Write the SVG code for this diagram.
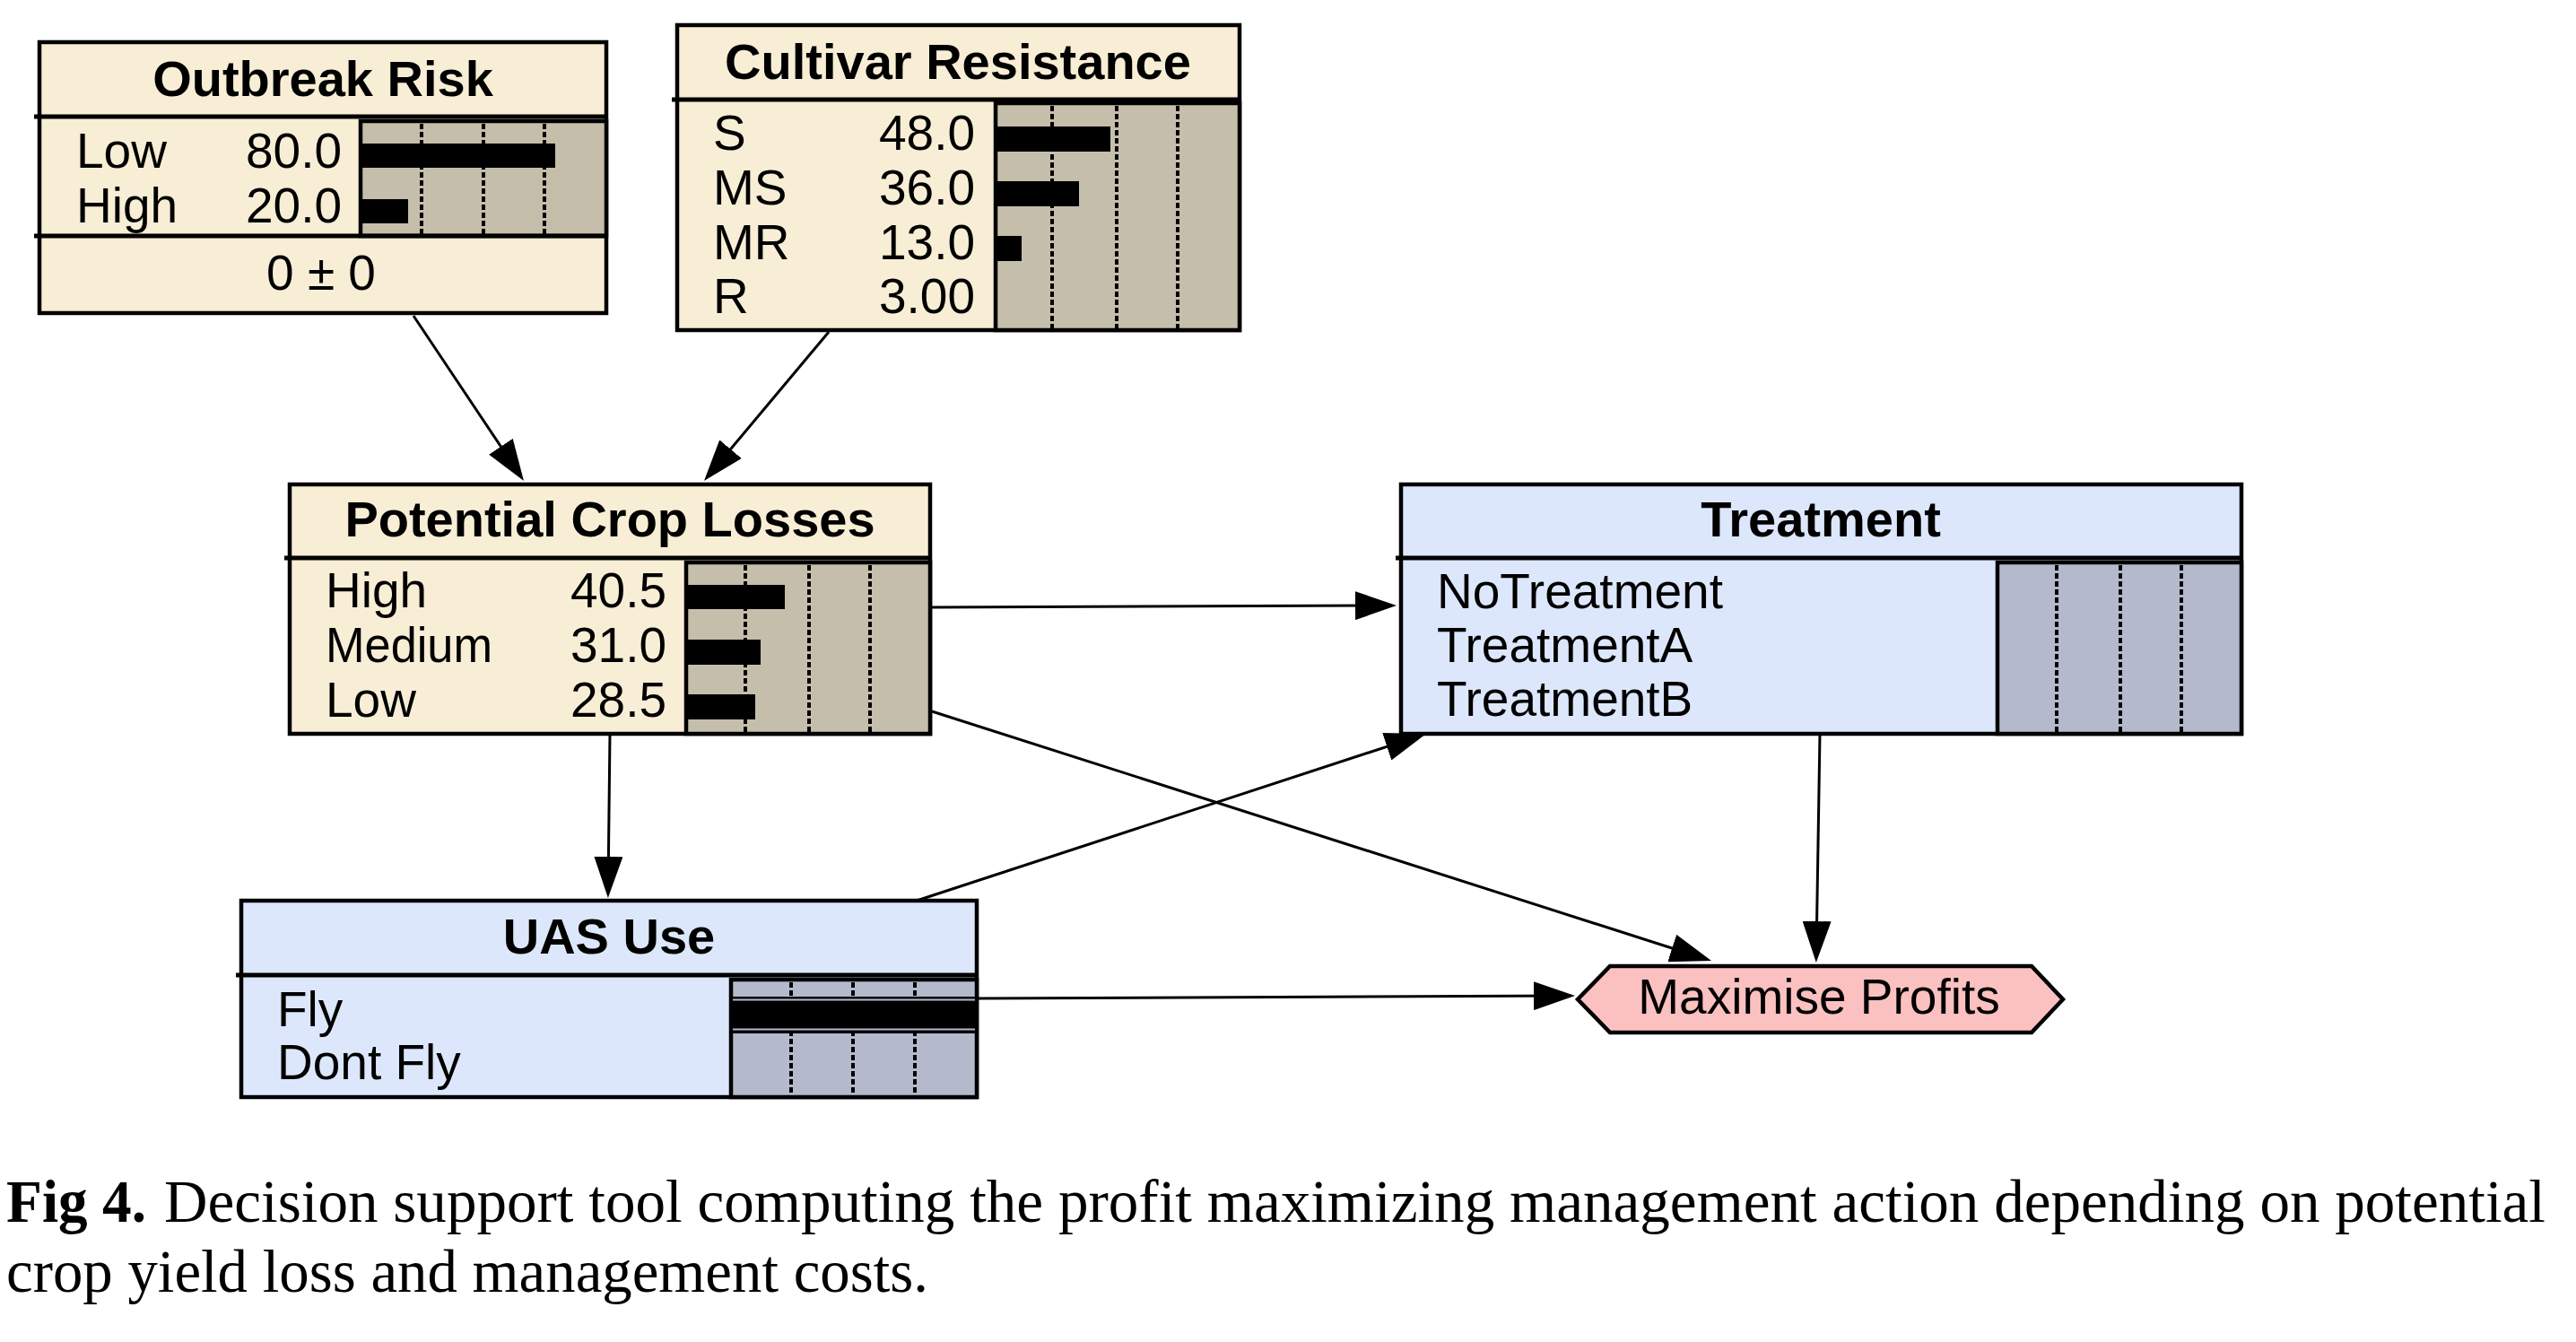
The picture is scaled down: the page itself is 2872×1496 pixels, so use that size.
<svg xmlns="http://www.w3.org/2000/svg" width="2872" height="1496" viewBox="0 0 2872 1496">
<style>
.box{stroke:#000;stroke-width:4.5}
.nat{fill:#f8eed5}
.dec{fill:#dde7fb}
.barbg-n{fill:#c5beaa;stroke:#000;stroke-width:4.5}
.barbg-d{fill:#b4bacb;stroke:#000;stroke-width:4.5}
.sep{stroke:#000;stroke-width:5}
.dash{stroke:#000;stroke-width:4;stroke-dasharray:6 3}
.title{font-family:"Liberation Sans",Arial,sans-serif;font-weight:bold;font-size:56px;fill:#000;text-anchor:middle}
.row{font-family:"Liberation Sans",Arial,sans-serif;font-size:55px;fill:#000}
.val{font-family:"Liberation Sans",Arial,sans-serif;font-size:55px;fill:#000;text-anchor:end}
.cap{font-family:"Liberation Serif","Times New Roman",serif;font-size:67px;fill:#000}
.edge{stroke:#000;stroke-width:3;fill:none;marker-end:url(#arr)}
</style>
<defs>
<marker id="arr" markerUnits="userSpaceOnUse" markerWidth="46" markerHeight="32" viewBox="0 0 46 32" refX="36" refY="16" orient="auto">
<path d="M0,0 L46,16 L0,32 z" fill="#000"/>
</marker>
</defs>
<rect width="2872" height="1496" fill="#fff"/>

<g id="connectors">
<line class="edge" x1="461" y1="352" x2="578.4" y2="527.7"/>
<line class="edge" x1="924" y1="370" x2="791.4" y2="528.3"/>
<line class="edge" x1="1039" y1="677" x2="1547" y2="675"/>
<line class="edge" x1="680" y1="818" x2="678" y2="991"/>
<line class="edge" x1="1039" y1="793" x2="1898.5" y2="1068"/>
<line class="edge" x1="1022" y1="1004" x2="1580.5" y2="821.1"/>
<line class="edge" x1="2029" y1="818" x2="2025" y2="1063"/>
<line class="edge" x1="1089" y1="1113" x2="1746" y2="1110"/>
</g>

<g id="outbreak-risk">
<rect class="box nat" x="44" y="47" width="632" height="302"/>
<line class="sep" x1="38" y1="130" x2="676" y2="130"/>
<rect class="barbg-n" x="402" y="135" width="274" height="128"/>
<line class="sep" x1="38" y1="263" x2="676" y2="263"/>
<line class="dash" x1="470" y1="138" x2="470" y2="261"/>
<line class="dash" x1="539" y1="138" x2="539" y2="261"/>
<line class="dash" x1="607" y1="138" x2="607" y2="261"/>
<rect x="404" y="160" width="215" height="27" fill="#000"/>
<rect x="404" y="222" width="51" height="27" fill="#000"/>
<text class="title" x="360" y="107">Outbreak Risk</text>
<text class="row" x="85" y="187">Low</text>
<text class="val" x="381" y="187">80.0</text>
<text class="row" x="85" y="248">High</text>
<text class="val" x="381" y="248">20.0</text>
<text class="row" x="358" y="323" text-anchor="middle">0 ± 0</text>
</g>

<g id="cultivar-resistance">
<rect class="box nat" x="755" y="28" width="627" height="340"/>
<line class="sep" x1="749" y1="111" x2="1382" y2="111"/>
<rect class="barbg-n" x="1110" y="115" width="272" height="253"/>
<line class="dash" x1="1173" y1="118" x2="1173" y2="366"/>
<line class="dash" x1="1245" y1="118" x2="1245" y2="366"/>
<line class="dash" x1="1313" y1="118" x2="1313" y2="366"/>
<rect x="1112" y="141" width="126" height="28" fill="#000"/>
<rect x="1112" y="202" width="91" height="28" fill="#000"/>
<rect x="1112" y="263" width="27" height="28" fill="#000"/>
<text class="title" x="1068" y="88">Cultivar Resistance</text>
<text class="row" x="795" y="167">S</text>
<text class="val" x="1087" y="167">48.0</text>
<text class="row" x="795" y="228">MS</text>
<text class="val" x="1087" y="228">36.0</text>
<text class="row" x="795" y="289">MR</text>
<text class="val" x="1087" y="289">13.0</text>
<text class="row" x="795" y="349">R</text>
<text class="val" x="1087" y="349">3.00</text>
</g>

<g id="potential-crop-losses">
<rect class="box nat" x="323" y="540" width="714" height="278"/>
<line class="sep" x1="317" y1="622" x2="1037" y2="622"/>
<rect class="barbg-n" x="765" y="627" width="272" height="191"/>
<line class="dash" x1="831" y1="630" x2="831" y2="816"/>
<line class="dash" x1="902" y1="630" x2="902" y2="816"/>
<line class="dash" x1="970" y1="630" x2="970" y2="816"/>
<rect x="767" y="652" width="108" height="27" fill="#000"/>
<rect x="767" y="713" width="81" height="28" fill="#000"/>
<rect x="767" y="774" width="75" height="28" fill="#000"/>
<text class="title" x="680" y="598">Potential Crop Losses</text>
<text class="row" x="363" y="677">High</text>
<text class="val" x="743" y="677">40.5</text>
<text class="row" x="363" y="738" textLength="186" lengthAdjust="spacingAndGlyphs">Medium</text>
<text class="val" x="743" y="738">31.0</text>
<text class="row" x="363" y="799">Low</text>
<text class="val" x="743" y="799">28.5</text>
</g>

<g id="treatment">
<rect class="box dec" x="1562" y="540" width="937" height="278"/>
<line class="sep" x1="1556" y1="622" x2="2499" y2="622"/>
<rect class="barbg-d" x="2227" y="627" width="272" height="191"/>
<line class="dash" x1="2293" y1="630" x2="2293" y2="816"/>
<line class="dash" x1="2364" y1="630" x2="2364" y2="816"/>
<line class="dash" x1="2432" y1="630" x2="2432" y2="816"/>
<text class="title" x="2030" y="598">Treatment</text>
<text class="row" x="1602" y="678">NoTreatment</text>
<text class="row" x="1602" y="738">TreatmentA</text>
<text class="row" x="1602" y="798">TreatmentB</text>
</g>

<g id="uas-use">
<rect class="box dec" x="269" y="1004" width="820" height="219"/>
<line class="sep" x1="263" y1="1087" x2="1089" y2="1087"/>
<rect class="barbg-d" x="815" y="1092" width="274" height="131"/>
<line class="dash" x1="882" y1="1095" x2="882" y2="1221"/>
<line class="dash" x1="951" y1="1095" x2="951" y2="1221"/>
<line class="dash" x1="1020" y1="1095" x2="1020" y2="1221"/>
<rect x="817" y="1111" width="272" height="41" fill="#000"/>
<line x1="817" y1="1114.5" x2="1087" y2="1114.5" stroke="#b4bacb" stroke-width="2"/>
<line x1="817" y1="1147.5" x2="1087" y2="1147.5" stroke="#b4bacb" stroke-width="2"/>
<text class="title" x="679" y="1063">UAS Use</text>
<text class="row" x="309" y="1144">Fly</text>
<text class="row" x="309" y="1203">Dont Fly</text>
</g>

<g id="maximise-profits">
<polygon points="1759,1114 1795,1077 2265,1077 2300,1114 2265,1151 1795,1151" fill="#fbc0c0" stroke="#000" stroke-width="4.5"/>
<text class="row" x="2028" y="1130" text-anchor="middle">Maximise Profits</text>
</g>

<g id="caption">
<text class="cap" x="7" y="1362" font-weight="bold" textLength="156" lengthAdjust="spacingAndGlyphs">Fig 4.</text>
<text class="cap" x="183" y="1362" textLength="2655" lengthAdjust="spacingAndGlyphs">Decision support tool computing the profit maximizing management action depending on potential</text>
<text class="cap" x="7" y="1440" textLength="1028" lengthAdjust="spacingAndGlyphs">crop yield loss and management costs.</text>
</g>
</svg>
